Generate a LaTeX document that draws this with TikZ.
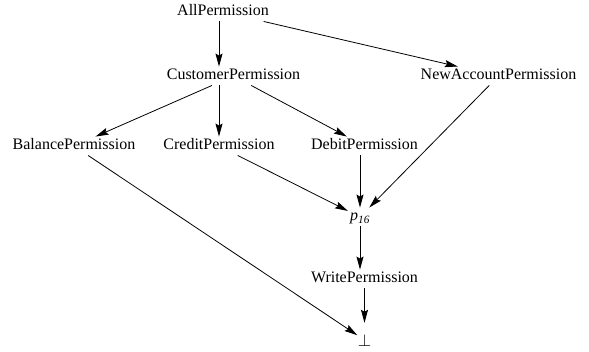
\documentclass[tikz,border=0pt]{standalone}
\usepackage{xcolor}
\usepackage{amsmath, amssymb}
\usepackage{fontspec}
\setmainfont{Liberation Serif}
\usepackage{tikz}
\usetikzlibrary{arrows.meta}

\begin{document}
\begin{tikzpicture}[x=1pt, y=-1pt,
    perm/.style={inner sep=2pt, text height=11pt, text depth=3.5pt, font=\fontsize{16}{19}\selectfont},
    edge/.style={line width=0.8pt, -{Stealth[length=13pt, width=7pt, inset=2pt]}}]
    \useasboundingbox (0, 0) rectangle (589, 351);
    % permissions
    \node[perm] at (223, 12) (all) {AllPermission};
    \node[perm] at (233.5, 76) (cust) {CustomerPermission};
    \node[perm] at (498.5, 76) (newacc) {NewAccountPermission};
    \node[perm] at (74, 146) (bal) {BalancePermission}; \node[perm] at (219, 146) (cred) {CreditPermission}; \node[perm] at (364.5, 146) (deb) {DebitPermission};
    \node[perm] at (360, 217) (p16) {\textit{p\textsubscript{16}}};
    \node[perm] at (364.5, 279) (write) {WritePermission};
    % bottom
    \node[inner sep=0pt, minimum width=14pt, minimum height=34pt, font=\fontsize{19}{22}\selectfont] at (364.5, 340) (bot) {$\bot$};
    % edges
    \draw[edge] (all.south -| cred) -- (cust.north -| cred); \draw[edge] (all) -- (newacc);
    \draw[edge] (cust) -- (bal); \draw[edge] (cust.south -| cred) -- (cred); \draw[edge] (cust) -- (deb);
    \draw[edge] (cred) -- (p16); \draw[edge] (deb.south -| p16) -- (p16); \draw[edge] (newacc) -- (p16);
    \draw[edge] (p16) -- (write.north -| p16);
    \draw[edge] (write) -- (bot); \draw[edge] (bal) -- (bot);
\end{tikzpicture}
\end{document}
